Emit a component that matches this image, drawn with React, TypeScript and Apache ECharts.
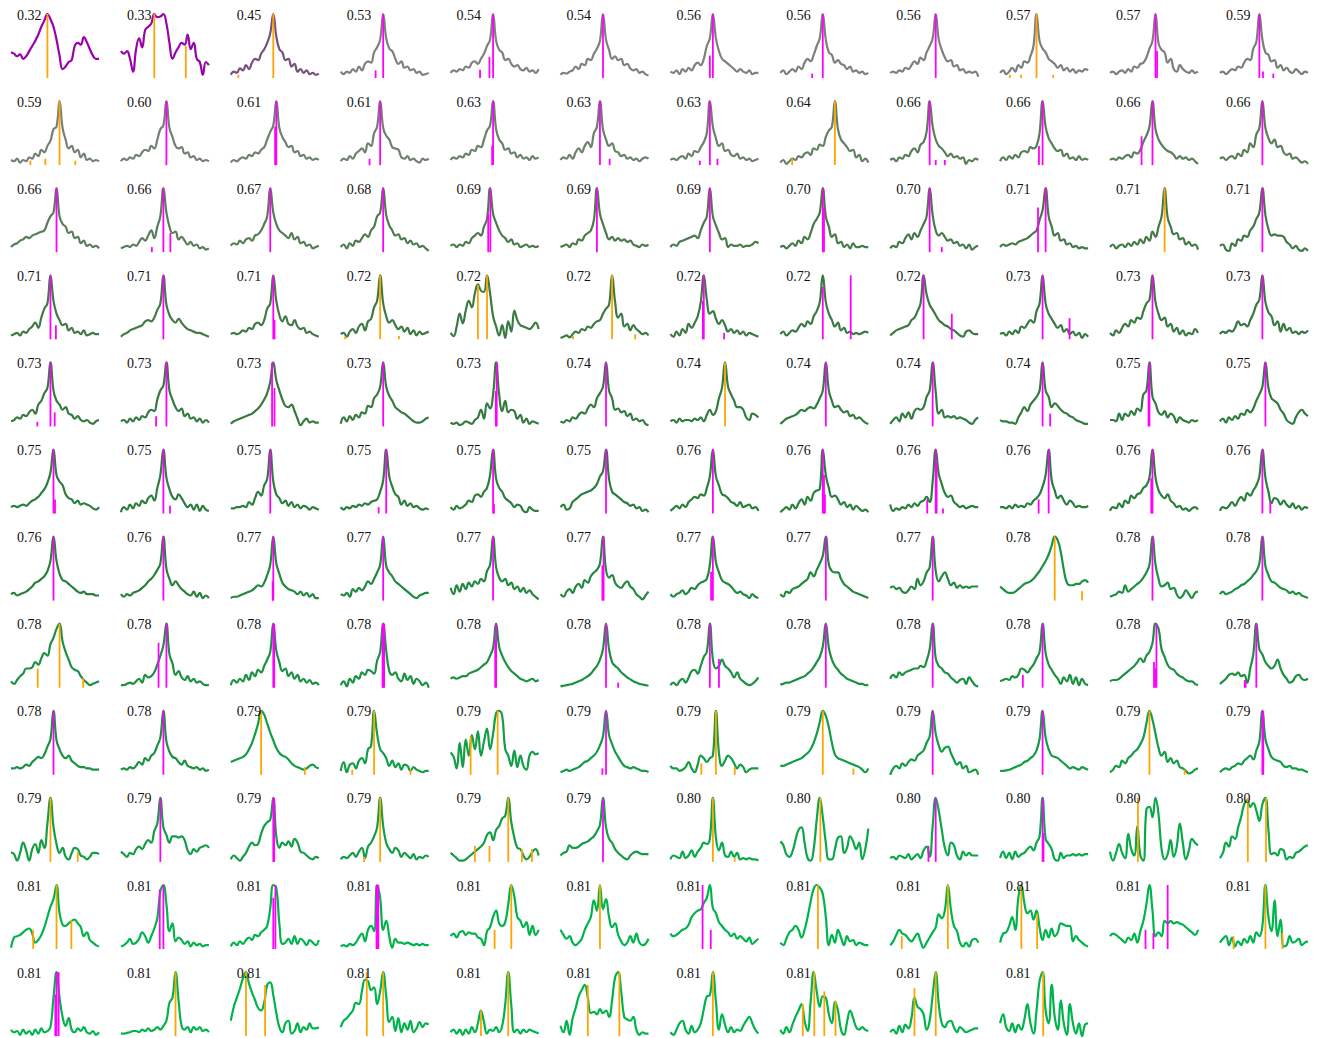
import React, { useEffect, useRef } from "react";
import * as echarts from "echarts";

// score label of every panel, in reading order
const labels: number[] = [
  0.32, 0.33, 0.45, 0.53, 0.54, 0.54, 0.56, 0.56, 0.56, 0.57, 0.57, 0.59,
  0.59, 0.6, 0.61, 0.61, 0.63, 0.63, 0.63, 0.64, 0.66, 0.66, 0.66, 0.66,
  0.66, 0.66, 0.67, 0.68, 0.69, 0.69, 0.69, 0.7, 0.7, 0.71, 0.71, 0.71,
  0.71, 0.71, 0.71, 0.72, 0.72, 0.72, 0.72, 0.72, 0.72, 0.73, 0.73, 0.73,
  0.73, 0.73, 0.73, 0.73, 0.73, 0.74, 0.74, 0.74, 0.74, 0.74, 0.75, 0.75,
  0.75, 0.75, 0.75, 0.75, 0.75, 0.75, 0.76, 0.76, 0.76, 0.76, 0.76, 0.76,
  0.76, 0.76, 0.77, 0.77, 0.77, 0.77, 0.77, 0.77, 0.77, 0.78, 0.78, 0.78,
  0.78, 0.78, 0.78, 0.78, 0.78, 0.78, 0.78, 0.78, 0.78, 0.78, 0.78, 0.78,
  0.78, 0.78, 0.79, 0.79, 0.79, 0.79, 0.79, 0.79, 0.79, 0.79, 0.79, 0.79,
  0.79, 0.79, 0.79, 0.79, 0.79, 0.79, 0.8, 0.8, 0.8, 0.8, 0.8, 0.8,
  0.81, 0.81, 0.81, 0.81, 0.81, 0.81, 0.81, 0.81, 0.81, 0.81, 0.81, 0.81,
  0.81, 0.81, 0.81, 0.81, 0.81, 0.81, 0.81, 0.81, 0.81, 0.81,
];

// curve samples (30 per panel, 0..100)
const curves: number[][] = [
  [40,38,34,37,30,34,42,50,58,68,80,90,100,92,80,60,35,14,18,25,28,50,55,52,64,56,45,35,30,30],
  [42,38,42,30,10,45,62,48,75,80,85,100,95,96,100,85,55,30,40,48,55,52,68,45,55,30,25,5,25,20],
  [5,10,8,15,12,20,14,24,30,28,38,45,55,70,100,65,45,40,28,30,18,22,10,14,8,12,6,8,5,7],
  [10,6,10,8,14,10,18,12,22,26,24,40,48,60,100,62,46,42,30,22,26,16,18,12,14,8,10,5,6,8],
  [8,12,10,14,12,18,16,24,26,22,30,38,50,60,100,58,44,40,28,30,22,18,20,14,12,16,10,12,8,14],
  [5,8,7,10,12,18,14,22,20,30,28,38,46,58,100,60,44,30,34,28,30,20,22,15,12,14,8,10,6,4],
  [10,8,12,6,14,10,16,12,20,24,20,30,50,62,100,62,42,30,26,22,18,14,10,14,10,8,12,6,8,8],
  [8,12,6,10,14,10,18,14,24,30,26,36,50,62,100,60,40,36,24,28,22,20,14,18,10,12,8,10,6,8],
  [8,10,8,12,10,16,14,20,26,22,32,28,40,50,62,100,60,44,32,26,28,18,20,12,14,8,10,8,10,2],
  [8,12,6,10,16,10,20,16,26,24,34,50,100,58,46,40,30,26,22,16,20,12,16,10,14,8,12,10,14,12],
  [8,10,6,10,12,8,14,10,18,16,22,24,32,46,58,100,54,44,40,24,30,14,10,20,14,10,8,12,8,10],
  [8,10,6,10,14,12,18,16,24,30,28,46,56,100,60,40,36,26,28,16,20,12,16,10,8,14,10,6,10,8],
  [8,6,10,4,8,6,12,10,18,14,24,20,30,38,56,60,100,58,40,26,30,20,24,12,18,8,10,6,8,6],
  [6,10,8,12,10,16,14,20,24,22,30,26,40,56,62,100,58,44,30,26,28,18,20,12,14,8,10,6,8,6],
  [4,8,6,10,12,10,16,14,20,18,24,28,40,52,62,100,58,44,36,28,30,20,22,14,16,10,12,8,10,8],
  [6,10,8,14,10,18,22,26,20,34,30,50,60,100,58,46,40,28,26,24,12,10,14,8,10,6,4,10,8,10],
  [8,12,10,14,12,18,16,24,22,30,28,40,54,62,100,56,40,34,24,26,18,20,12,16,10,12,8,14,10,12],
  [8,12,10,16,10,20,26,20,30,36,28,50,60,100,56,40,30,34,22,20,14,16,10,12,8,10,6,10,12,10],
  [8,10,8,12,14,10,18,14,22,20,28,36,50,100,60,42,30,34,22,24,16,14,18,10,12,8,10,6,8,10],
  [4,8,2,6,10,8,14,12,18,20,16,26,24,32,30,44,54,60,100,56,40,34,28,22,24,12,16,6,10,4],
  [8,10,6,12,10,16,14,22,26,20,32,36,52,100,60,40,30,26,20,14,18,12,14,10,12,2,8,6,10,8],
  [6,12,8,14,10,16,12,20,22,20,28,26,30,50,100,60,42,34,26,22,24,14,18,10,12,8,14,8,10,8],
  [8,10,8,12,10,14,16,12,20,18,24,36,46,60,100,56,40,32,26,22,20,16,10,14,10,12,8,10,6,2],
  [10,12,8,12,14,10,18,14,24,20,34,28,48,58,100,58,42,34,40,28,30,20,16,18,10,12,8,4,6,2],
  [8,12,14,18,20,24,22,26,28,30,32,34,46,56,62,100,56,44,40,30,32,22,24,14,18,10,12,8,10,6],
  [6,8,10,8,12,10,16,22,18,26,34,22,40,56,100,62,40,30,32,20,24,18,12,16,10,12,6,8,4,6],
  [10,14,12,18,14,20,22,18,26,28,34,44,56,100,62,44,34,30,26,22,30,20,24,14,16,10,12,6,8,10],
  [8,12,6,14,10,18,16,22,28,24,34,40,56,62,100,58,42,34,26,28,20,22,14,18,12,14,8,10,6,2],
  [10,12,8,12,10,16,14,22,26,30,26,40,52,100,60,46,34,26,22,16,20,12,14,8,10,12,8,10,8,10],
  [8,10,12,8,14,12,20,18,26,30,34,50,100,60,44,30,20,24,18,22,18,20,16,18,12,10,8,12,10,12],
  [8,12,10,16,18,20,22,24,26,22,34,46,56,100,56,42,30,20,22,8,12,10,10,12,8,10,10,12,16,14],
  [8,10,6,10,14,10,18,14,24,20,30,44,52,62,100,56,40,24,28,14,16,8,12,6,14,8,8,10,8,8],
  [6,10,8,16,14,22,28,20,30,24,34,44,56,100,58,34,26,30,24,18,20,14,16,10,12,6,12,4,8,10],
  [8,12,10,12,14,12,16,18,20,22,26,30,34,50,66,100,56,40,26,30,18,20,12,14,8,10,6,8,6,6],
  [8,12,6,10,12,8,14,10,16,12,20,14,24,18,32,24,40,56,100,54,40,28,30,20,22,12,16,10,12,4],
  [10,12,4,2,14,10,20,18,26,24,34,40,52,62,100,58,36,26,28,26,26,24,16,12,6,10,4,2,6,2],
  [6,8,10,6,12,10,16,20,26,18,34,48,56,100,60,40,30,22,24,14,18,10,12,8,14,6,8,10,8,8],
  [4,8,10,14,16,18,20,22,28,30,28,34,46,56,100,54,38,30,26,32,26,20,16,14,12,10,10,8,6,4],
  [8,10,8,10,14,12,18,16,24,26,22,30,48,56,100,60,38,28,36,24,22,30,20,16,18,10,12,8,6,4],
  [8,10,4,12,16,10,20,24,14,28,32,50,60,100,56,36,26,30,22,16,20,12,18,8,14,6,12,8,10,12],
  [10,5,20,40,25,45,60,50,72,86,76,74,100,72,36,20,6,22,2,28,12,45,30,22,20,18,16,20,26,16],
  [2,4,6,3,8,12,10,16,14,20,18,24,28,30,40,48,54,100,58,34,40,20,24,14,22,16,12,8,10,6],
  [8,4,12,6,16,10,24,18,26,36,58,100,62,40,44,32,24,30,22,12,16,10,14,8,12,6,10,8,6,4],
  [8,12,6,10,14,12,18,24,20,28,24,36,44,58,100,58,40,30,20,26,14,18,10,12,8,10,8,10,12,10],
  [6,10,14,16,18,20,22,30,34,44,56,100,70,54,46,38,30,26,22,20,16,14,10,6,4,12,14,10,8,8],
  [8,10,6,12,8,14,10,20,18,24,30,26,44,56,100,56,40,32,24,18,22,12,16,8,12,6,10,2,8,4],
  [10,6,14,10,18,24,20,30,26,34,32,44,56,62,100,58,40,30,34,20,24,12,18,8,14,6,10,8,16,10],
  [8,12,10,14,12,18,28,22,24,20,30,40,54,62,100,58,42,36,22,28,12,24,14,18,10,12,8,12,10,14],
  [8,10,14,12,18,16,22,26,20,34,40,52,60,100,56,40,34,26,30,20,18,12,16,10,8,10,6,4,8,10],
  [8,10,6,12,8,14,10,16,14,22,26,24,42,56,64,100,56,42,30,24,28,16,20,12,14,8,12,6,10,6],
  [4,8,10,12,14,16,18,20,24,28,34,42,52,70,100,72,56,42,32,30,34,24,12,2,8,12,6,8,6,6],
  [4,14,8,16,10,18,14,22,20,32,30,44,50,62,100,62,48,40,30,26,22,20,16,12,8,6,6,8,12,14],
  [6,4,6,2,4,8,6,4,10,14,26,12,36,28,50,100,50,24,40,22,26,24,12,18,6,12,4,8,6,4],
  [8,6,10,8,14,12,18,22,20,28,34,30,44,52,62,100,56,44,26,28,22,24,16,20,10,12,8,10,4,2],
  [8,10,6,12,8,10,10,8,12,10,14,8,18,26,18,24,44,60,100,62,50,40,30,30,26,14,10,20,18,14],
  [4,8,12,14,16,18,22,26,24,28,30,28,34,44,56,100,56,40,30,32,26,22,24,16,18,12,14,10,6,4],
  [4,10,14,8,20,14,22,12,24,28,26,30,46,56,100,54,20,26,14,16,14,16,12,14,12,10,6,4,10,14],
  [10,8,8,6,6,4,14,22,30,24,34,40,46,56,100,56,46,30,36,32,26,22,20,16,14,10,8,6,4,4],
  [10,10,8,20,10,20,16,24,18,28,24,50,56,100,46,36,22,18,24,14,20,16,6,14,10,8,6,10,8,10],
  [8,12,6,14,10,16,12,20,18,26,22,28,40,50,62,100,60,44,40,36,26,20,10,6,4,14,22,26,20,16],
  [10,12,10,12,14,12,16,20,22,26,32,38,48,64,100,60,50,44,30,24,22,16,20,14,16,14,12,8,6,10],
  [2,10,6,14,8,16,12,20,16,24,28,20,40,60,100,56,38,26,22,30,24,16,10,14,6,14,4,12,6,4],
  [8,8,10,10,12,10,18,14,24,34,28,44,54,100,50,30,24,16,20,12,18,10,14,8,12,10,6,10,8,6],
  [10,6,10,8,12,10,14,12,16,14,18,20,22,34,52,100,58,42,30,26,14,20,12,16,10,12,8,6,8,6],
  [10,6,12,8,10,14,20,18,28,30,26,34,40,60,100,54,40,34,24,20,16,10,14,12,4,2,10,6,4,4],
  [10,14,6,8,18,22,26,30,32,34,36,40,46,58,66,100,54,34,30,26,22,18,16,12,14,8,10,4,6,2],
  [4,8,12,8,14,10,18,22,26,24,30,28,40,58,100,58,44,30,28,24,18,16,12,18,10,12,14,8,10,4],
  [2,6,10,6,14,8,16,22,14,26,20,32,36,38,100,60,40,26,28,22,14,18,10,14,6,12,8,4,6,2],
  [14,4,8,6,10,8,14,10,16,12,18,20,26,18,50,100,62,46,32,26,28,18,14,10,12,8,10,12,10,10],
  [10,10,8,12,8,14,10,12,10,16,14,20,24,30,42,60,100,52,36,24,28,20,14,20,16,10,12,10,10,12],
  [4,10,8,16,10,20,16,28,24,30,32,40,44,56,100,56,36,28,24,30,20,16,10,12,6,8,4,8,10,6],
  [4,10,8,12,18,12,20,26,20,32,28,36,44,58,100,56,34,16,24,22,14,20,14,10,16,8,12,6,10,8],
  [10,12,8,10,12,14,18,22,28,30,34,38,46,62,100,62,42,32,30,26,22,18,14,12,14,10,10,10,8,8],
  [10,6,10,8,12,14,16,20,24,30,34,40,48,58,100,50,34,24,30,24,18,14,10,8,14,6,12,4,8,4],
  [4,6,6,8,10,12,14,16,20,24,22,28,40,56,100,58,42,28,22,18,16,14,10,14,8,12,6,10,4,4],
  [10,8,12,6,18,14,20,16,22,30,26,34,44,56,100,54,44,38,30,26,22,18,14,10,6,4,8,10,12,12],
  [20,10,24,14,26,18,28,22,30,26,34,30,46,56,100,52,36,30,34,24,28,18,22,14,20,12,16,10,6,2],
  [10,6,14,18,12,22,26,20,32,28,38,44,48,58,100,48,36,40,28,22,20,26,30,22,18,10,6,2,8,14],
  [10,6,10,12,16,10,14,20,18,24,28,30,34,56,100,60,44,32,28,26,22,16,12,14,10,8,4,10,6,4],
  [10,6,14,12,18,20,22,26,30,34,44,38,48,58,70,100,56,46,44,44,34,26,22,18,14,12,10,8,6,4],
  [20,22,18,20,14,12,16,22,18,34,24,30,44,52,100,46,30,38,44,34,24,28,20,24,20,22,20,22,22,22],
  [22,18,14,12,12,14,18,22,26,28,30,34,40,46,54,62,72,86,100,94,76,48,28,24,24,26,26,30,32,28],
  [6,8,10,14,12,24,14,18,22,26,30,36,44,56,100,56,34,22,24,28,18,20,10,4,8,16,10,4,12,14],
  [10,14,10,12,14,18,20,24,26,30,34,40,46,58,100,54,40,30,28,24,20,18,16,12,14,10,12,8,6,4],
  [10,6,12,18,22,30,30,32,40,36,46,54,50,68,78,92,100,72,56,44,32,28,26,18,12,8,4,6,8,10],
  [4,4,6,8,6,10,14,8,20,16,18,24,36,50,66,100,52,38,20,26,16,12,18,10,14,8,10,6,4,4],
  [4,12,8,14,10,20,12,24,18,28,24,34,44,56,100,58,40,26,30,18,24,14,20,10,14,8,12,6,8,4],
  [4,10,2,14,8,18,14,24,20,28,26,22,42,56,100,58,26,20,24,14,10,22,12,18,6,14,10,4,8,0],
  [14,16,14,16,18,18,22,24,26,28,32,36,40,50,62,100,64,50,40,32,26,22,18,14,12,10,12,14,10,12],
  [2,3,4,5,6,8,10,12,15,18,22,28,34,44,60,100,60,40,34,30,24,20,16,13,10,8,6,5,4,3],
  [4,8,4,10,14,8,16,26,28,22,34,48,56,100,44,30,34,44,34,30,24,16,24,14,10,6,4,6,10,16],
  [5,6,8,8,10,12,14,16,18,22,26,32,40,48,64,100,62,44,34,28,22,18,14,12,10,8,6,6,4,4],
  [14,20,16,24,20,24,26,28,30,30,34,32,42,60,100,46,34,30,24,22,16,12,8,12,14,6,16,10,4,2],
  [10,12,14,12,18,16,20,30,28,24,30,36,46,56,100,54,36,28,20,14,6,16,10,20,6,16,4,14,6,4],
  [10,12,12,14,18,22,26,30,34,40,46,40,50,56,70,100,92,60,48,36,30,28,22,18,16,12,10,10,6,4],
  [6,10,14,20,22,20,24,18,20,8,30,52,100,60,52,40,34,30,34,44,30,20,14,8,10,18,20,14,12,14],
  [10,10,12,10,12,16,14,20,24,28,26,32,44,56,100,54,40,30,26,30,22,18,14,12,12,10,10,8,8,8],
  [8,10,8,12,10,14,20,16,26,22,30,34,46,58,100,52,36,28,26,20,16,22,14,12,10,12,8,10,6,8],
  [20,22,24,26,28,32,40,50,64,80,100,94,80,66,54,42,34,30,28,24,18,14,12,10,8,10,14,16,12,10],
  [6,20,4,16,18,10,22,26,18,40,45,100,64,40,34,26,14,22,12,18,8,16,14,6,12,8,6,4,6,6],
  [35,28,10,50,12,55,30,62,40,68,30,52,72,40,64,96,100,92,40,30,14,38,12,30,14,8,30,36,32,34],
  [4,6,8,6,8,10,12,16,20,22,26,30,36,46,60,100,62,48,36,28,20,14,12,10,12,10,8,6,6,4],
  [14,10,10,6,8,12,20,10,4,16,30,26,20,26,30,100,34,14,22,30,26,18,10,16,12,4,8,10,10,10],
  [14,14,16,18,20,22,24,26,30,34,40,50,64,82,100,92,74,50,32,26,24,22,20,18,16,14,12,8,4,10],
  [0,10,14,10,18,14,20,24,22,30,34,38,50,60,100,64,46,36,42,44,34,24,16,20,10,14,4,6,8,0],
  [6,6,7,8,10,12,14,16,20,22,26,30,38,56,100,58,40,30,28,26,22,18,14,10,12,10,8,12,10,8],
  [4,8,14,12,22,18,26,30,36,40,48,58,80,100,86,64,42,30,36,20,26,18,22,12,10,6,2,4,8,10],
  [4,8,10,8,12,14,18,16,22,26,30,24,38,52,100,56,40,28,24,22,20,14,12,14,10,10,8,8,6,4],
  [15,12,2,14,30,18,2,20,28,14,34,22,60,100,55,28,14,22,8,4,14,22,20,10,8,4,8,14,14,12],
  [16,12,8,14,12,20,24,20,28,34,30,48,60,100,54,42,30,40,40,38,40,34,18,12,20,16,22,24,26,22],
  [4,10,6,2,8,14,24,30,26,28,44,56,62,66,100,40,22,30,26,32,24,36,30,16,14,10,6,4,8,6],
  [4,8,6,10,14,8,16,22,6,24,30,40,54,100,56,30,20,14,22,18,8,14,10,6,12,4,8,6,10,8],
  [14,10,6,2,2,4,8,12,16,20,24,30,42,46,34,50,56,68,72,100,62,38,22,20,10,4,8,16,20,10],
  [10,14,16,26,22,22,24,28,30,32,36,40,48,58,100,54,36,30,20,14,10,6,4,10,14,16,14,12,12,12],
  [4,10,8,6,16,6,10,18,8,16,22,30,28,36,100,38,18,30,10,8,16,8,14,4,6,4,6,4,4,2],
  [32,26,12,8,16,34,50,54,30,6,2,20,66,100,70,30,4,4,20,38,40,14,22,40,32,20,30,4,20,52],
  [6,8,4,10,8,6,12,4,8,12,6,18,24,8,56,100,80,50,22,10,30,26,10,4,16,10,14,10,10,10],
  [6,16,6,14,4,16,8,12,14,20,24,18,30,40,100,36,28,20,4,2,14,6,10,10,12,10,12,10,12,12],
  [16,2,14,28,14,6,44,20,10,56,10,2,82,86,70,100,74,20,4,12,34,8,24,60,30,4,18,36,30,26],
  [6,14,30,24,40,36,54,70,90,96,86,92,80,64,90,100,50,12,14,10,20,18,4,8,6,14,16,20,24,26],
  [2,18,20,22,26,30,32,24,10,14,22,34,50,66,78,100,56,38,36,40,44,46,40,34,20,26,14,10,6,4],
  [4,6,10,16,8,10,16,26,20,10,20,32,48,90,100,70,28,40,12,18,14,8,12,4,10,6,8,4,6,6],
  [4,10,6,12,8,14,18,14,22,20,26,30,36,64,100,96,40,8,10,16,8,20,8,16,12,6,14,10,6,14],
  [4,6,4,8,6,10,18,24,12,30,36,28,100,80,30,44,20,2,16,10,10,8,10,8,6,8,6,8,6,6],
  [20,24,18,26,28,22,26,24,24,18,16,6,28,34,50,60,40,36,42,70,100,82,50,44,34,42,22,36,22,30],
  [30,22,16,20,10,6,10,16,30,40,50,76,60,100,62,78,50,34,40,22,12,6,10,20,10,24,10,6,8,16],
  [24,20,22,26,30,32,38,50,56,60,62,72,80,100,64,56,42,36,30,26,20,24,16,20,16,12,18,8,12,16],
  [10,6,16,26,30,36,30,18,30,50,74,94,100,96,86,50,6,22,10,30,18,6,20,12,14,6,10,8,6,6],
  [6,12,22,30,24,22,16,12,18,24,12,2,10,18,26,34,54,48,60,100,62,36,28,10,4,10,4,14,16,10],
  [10,24,26,36,50,30,80,100,72,56,60,46,60,34,14,30,18,32,20,26,40,38,36,36,12,20,14,10,6,4],
  [20,24,22,18,14,10,18,14,24,10,28,44,70,100,60,20,26,20,44,40,44,40,42,40,38,34,30,26,22,30],
  [10,16,20,6,18,4,12,6,16,10,20,10,26,20,36,100,50,28,76,20,46,4,6,20,10,12,16,6,10,12],
  [10,6,8,2,10,4,8,2,10,4,12,6,8,14,60,100,60,30,16,28,10,6,12,8,14,6,4,8,2,6],
  [4,4,5,6,8,8,6,10,8,12,8,10,14,10,16,24,52,60,100,56,16,10,14,6,14,10,14,8,10,6],
  [24,46,60,74,90,100,82,68,56,44,40,52,80,84,64,36,14,6,20,24,4,8,20,6,14,10,20,12,12,14],
  [14,24,28,34,40,52,50,70,88,86,72,76,50,70,100,62,22,30,8,28,6,20,10,24,6,12,22,14,20,18],
  [6,10,4,10,2,10,4,14,6,20,40,22,4,10,8,14,6,16,50,100,48,6,10,4,10,6,10,8,6,4],
  [16,6,24,2,28,44,62,72,80,60,36,38,34,42,36,40,30,56,92,100,70,30,26,24,30,10,2,6,4,4],
  [6,2,10,20,24,10,4,16,6,10,20,42,62,64,100,54,10,34,18,6,14,6,10,8,16,24,30,20,10,4],
  [10,4,14,6,18,30,40,50,24,8,54,100,70,46,62,60,34,20,54,40,10,2,22,40,28,14,10,14,10,8],
  [6,10,4,16,6,18,12,28,60,46,42,34,10,24,64,100,50,20,14,22,24,14,6,14,10,6,8,10,12,12],
  [20,34,14,8,20,6,18,10,26,50,20,4,40,86,100,40,20,80,30,10,56,20,2,50,20,4,20,0,18,20],
];

// vertical marks per panel: [x position, height, kind] kind 0 = magenta, 1 = orange
const marks: number[][][] = [
  [[12,100,1]],
  [[11,100,1],[21.4,50,1]],
  [[14,100,1],[2.5,5,1]],
  [[14,100,0],[11.5,12,0]],
  [[14,100,0],[12.8,33,0],[9.7,13,0]],
  [[14,100,0]],
  [[14,100,0],[13,35,0]],
  [[14,100,0],[10.5,7,0]],
  [[15,100,0]],
  [[12,100,1],[3.2,5,1],[6.9,5,1],[17.5,5,1]],
  [[15,100,0],[15.5,42,0]],
  [[13,100,0],[14.2,10,0],[17.6,7,0]],
  [[16,100,1],[6.4,7,1],[11.3,10,1],[21.2,7,1]],
  [[15,100,0]],
  [[15,100,0],[14.6,60,0]],
  [[13,100,0],[9.5,10,0]],
  [[14,100,0],[13.7,30,0]],
  [[13,100,0],[16.2,10,0]],
  [[13,100,0],[9.7,7,0],[15.5,10,0]],
  [[18,100,1],[3.9,10,1]],
  [[13,100,0],[15,8,0],[18,8,0]],
  [[14,100,0],[12.8,30,0]],
  [[14,100,0],[10.4,45,0]],
  [[14,100,0]],
  [[15,100,0]],
  [[14,100,0],[10.2,8,0],[16.3,30,0]],
  [[13,100,0]],
  [[14,100,0]],
  [[13.1,100,0],[12.4,60,0]],
  [[12,100,0]],
  [[13,100,0]],
  [[14,100,0],[14.4,70,0]],
  [[13,100,0],[17,8,0]],
  [[15,100,0],[12.5,70,0]],
  [[18,100,1]],
  [[14,100,0]],
  [[13,100,0],[14.8,22,0]],
  [[14,100,0]],
  [[14,100,0],[14.4,30,0]],
  [[13,100,1],[1.5,5,1],[19.2,5,1]],
  [[9,85,1],[12,100,1]],
  [[17,100,1],[4.1,5,1],[24.6,8,1]],
  [[11,100,0],[10.7,60,0],[17.7,10,0]],
  [[14,82,0],[23.2,100,0]],
  [[11,100,0],[20.3,40,0]],
  [[14,100,0],[22.9,33,0]],
  [[14,100,0]],
  [[14,100,0]],
  [[13,100,0],[14.4,22,0],[8.7,7,0]],
  [[15,100,0],[11.6,16,0]],
  [[13.6,100,0],[14.4,60,0]],
  [[14,100,0]],
  [[15.2,100,0],[14.9,55,0]],
  [[15,100,0]],
  [[18,100,1]],
  [[15,100,0]],
  [[14,100,0]],
  [[14,100,0],[16.5,20,0]],
  [[13,100,0],[12.7,70,0]],
  [[15,100,0]],
  [[14,100,0],[14.5,22,0]],
  [[14,100,0],[16.2,12,0]],
  [[13,100,0]],
  [[15,100,0],[12.5,10,0]],
  [[14,100,0],[14.3,15,0]],
  [[15,100,0]],
  [[14,100,0]],
  [[14,100,0],[14.4,60,0],[14.7,30,0]],
  [[15,100,0],[15.3,80,0],[12.2,22,0],[17.4,8,0]],
  [[16,100,0],[12.7,22,0]],
  [[14,100,0],[13.6,55,0]],
  [[14,100,0],[16.6,18,0]],
  [[14,100,0]],
  [[14,100,0]],
  [[14,100,0],[13.8,30,0]],
  [[14,100,0]],
  [[14,100,0]],
  [[14.2,100,0],[13.8,55,0]],
  [[14,100,0],[13.4,45,0]],
  [[15,100,0]],
  [[14,100,0]],
  [[18,100,1],[27,15,1]],
  [[14,100,0]],
  [[14,100,0]],
  [[16,100,1],[8.8,30,1],[23.8,15,1]],
  [[15,100,0],[12.4,70,0]],
  [[14,100,0],[14.3,100,0]],
  [[13.8,100,0],[14,100,0],[14.3,100,0]],
  [[15,100,0],[14.7,75,0]],
  [[15,100,0],[19,8,0]],
  [[13,100,0],[16,45,0]],
  [[15,100,0]],
  [[14,100,0]],
  [[14,100,0],[7.5,20,0]],
  [[15.3,100,0],[14.5,40,0],[14.9,30,0]],
  [[12,100,0],[8.2,12,0],[8.5,8,0]],
  [[14,100,0]],
  [[14,100,0]],
  [[10,100,1],[24.4,12,1]],
  [[11,100,1],[3.8,8,1],[23,8,1]],
  [[15.5,100,1],[6.6,60,1]],
  [[15,100,0],[13.8,10,0]],
  [[15,100,1],[10.2,18,1],[21.2,12,1]],
  [[14,100,1],[24.1,10,1]],
  [[14,100,0]],
  [[14,100,0]],
  [[13,100,1],[24.6,8,1]],
  [[14,100,0],[14.3,100,0]],
  [[13,100,1],[22,15,1]],
  [[13,100,0]],
  [[14,100,0],[14.3,100,0]],
  [[13,100,1],[7.7,8,1]],
  [[19,100,1],[8,25,1],[12.8,25,1],[23.5,20,1],[26.8,20,1]],
  [[14,100,0]],
  [[14,100,1],[21.2,6,1]],
  [[13.2,100,1]],
  [[15,100,0],[12.6,25,0]],
  [[14,100,0],[14.3,45,0]],
  [[9.2,100,1]],
  [[9.2,100,1],[15.2,100,1]],
  [[15,100,1],[7.3,30,1],[19.9,45,1]],
  [[14,100,0],[12.8,93,0]],
  [[14,80,0],[14.7,100,0]],
  [[11.8,100,0],[12.1,100,0],[12.4,100,0]],
  [[20,100,1],[14.5,30,1]],
  [[13,100,1]],
  [[10.6,100,0],[13.3,30,0]],
  [[12.4,100,1]],
  [[19,100,1],[3.8,20,1]],
  [[7,100,1],[12.2,55,1]],
  [[11.7,30,0],[14.3,25,0],[19,100,0]],
  [[15,100,1],[4.5,20,1],[20.6,25,1]],
  [[15,100,0],[14.6,65,0],[15.7,100,0]],
  [[18,100,1]],
  [[5,100,1],[11.3,80,1]],
  [[8.6,100,1],[14,100,1]],
  [[10,40,1],[19,100,1]],
  [[9,80,1],[19.4,100,1]],
  [[14,100,1]],
  [[7.4,50,1],[11.2,100,1],[14.5,70,1],[18.2,55,1]],
  [[8,75,1],[15,100,1]],
  [[14.2,100,1]],
];

const COLS = 12;
const MARK_COLORS = ["#ff00ff", "#ffa500"];
const COLOR_STOPS: [number, number[]][] = [
  [0.32, [155, 0, 175]],
  [0.45, [118, 82, 125]],
  [0.53, [128, 128, 128]],
  [0.57, [124, 128, 124]],
  [0.63, [105, 130, 105]],
  [0.69, [75, 122, 75]],
  [0.73, [55, 122, 65]],
  [0.76, [40, 128, 60]],
  [0.78, [28, 145, 65]],
  [0.81, [0, 180, 75]],
];

function colorFor(v: number): string {
  let a = COLOR_STOPS[0];
  let b = COLOR_STOPS[COLOR_STOPS.length - 1];
  for (let k = 0; k < COLOR_STOPS.length - 1; k++) {
    if (v >= COLOR_STOPS[k][0] && v <= COLOR_STOPS[k + 1][0]) {
      a = COLOR_STOPS[k];
      b = COLOR_STOPS[k + 1];
      break;
    }
  }
  const t = b[0] === a[0] ? 0 : Math.min(1, Math.max(0, (v - a[0]) / (b[0] - a[0])));
  const c = a[1].map((x, i) => Math.round(x + (b[1][i] - x) * t));
  return `rgb(${c[0]},${c[1]},${c[2]})`;
}

const renderMark = (params: any, api: any) => {
  const x = api.value(0);
  const h = api.value(1);
  const kind = api.value(2);
  const p0 = api.coord([x, 0]);
  const p1 = api.coord([x, h]);
  return {
    type: "line",
    shape: { x1: p0[0], y1: p0[1], x2: p1[0], y2: p1[1] },
    style: { stroke: MARK_COLORS[kind], lineWidth: 1.8 },
  };
};

export default function App() {
  const ref = useRef<HTMLDivElement>(null);
  useEffect(() => {
    document.body.style.margin = "0";
    if (!ref.current) return;
    const chart = echarts.init(ref.current, null, { renderer: "svg" });
    const grids: any[] = [];
    const xAxes: any[] = [];
    const yAxes: any[] = [];
    const series: any[] = [];
    const graphics: any[] = [];
    curves.forEach((vals, i) => {
      const r = Math.floor(i / COLS);
      const c = i % COLS;
      const left = 11 + 109.9 * c;
      const top = 14 + 87.1 * r;
      grids.push({ left, top, width: 88, height: 64 });
      xAxes.push({ gridIndex: i, type: "value", min: 0, max: vals.length - 1, show: false });
      yAxes.push({ gridIndex: i, type: "value", min: 0, max: 100, show: false });
      series.push({
        type: "line",
        xAxisIndex: i,
        yAxisIndex: i,
        data: vals.map((v, k) => [k, v]),
        smooth: 0.45,
        symbol: "none",
        clip: false,
        silent: true,
        z: 2,
        lineStyle: { color: colorFor(labels[i]), width: 2.2 },
      });
      series.push({
        type: "custom",
        xAxisIndex: i,
        yAxisIndex: i,
        data: marks[i],
        renderItem: renderMark,
        clip: false,
        silent: true,
        z: 3,
      });
      graphics.push({
        type: "text",
        x: left + 6,
        y: top + 1,
        z: 10,
        silent: true,
        style: {
          text: labels[i].toFixed(2),
          fontSize: 14,
          fontFamily: "Liberation Serif",
          fill: "#111",
          verticalAlign: "middle",
          align: "left",
        },
      });
    });
    chart.setOption({
      animation: false,
      backgroundColor: "#ffffff",
      grid: grids,
      xAxis: xAxes,
      yAxis: yAxes,
      series,
      graphic: graphics,
    });
    return () => chart.dispose();
  }, []);
  return <div ref={ref} style={{ width: 1318, height: 1038 }} />;
}
